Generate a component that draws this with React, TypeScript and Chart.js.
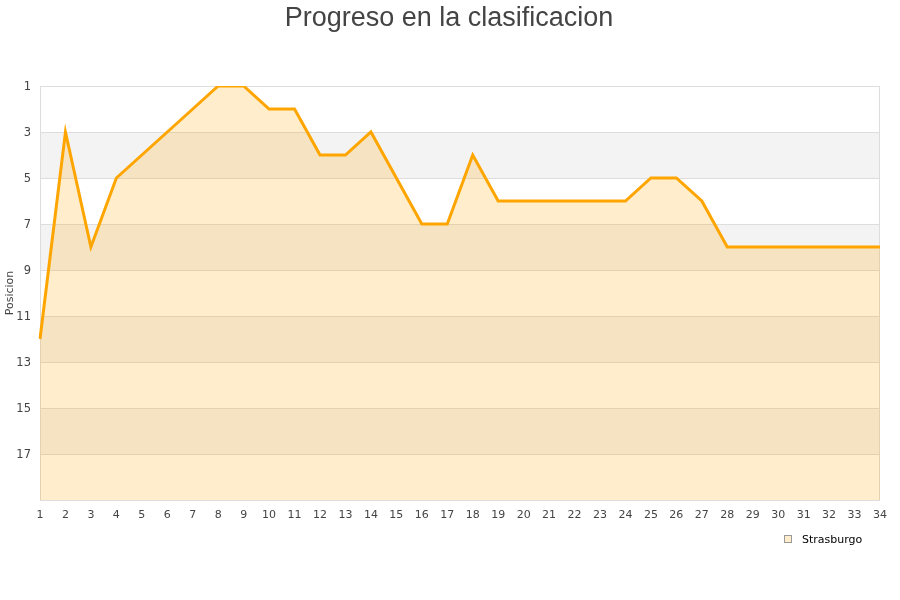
import React, { useEffect, useRef } from "react";
import { Chart, registerables } from "chart.js";

Chart.register(...registerables);

const TITLE = "Progreso en la clasificacion";
const Y_TITLE = "Posicion";
const SERIES_LABEL = "Strasburgo";
const JORNADAS: string[] = Array.from({ length: 34 }, (_, i) => String(i + 1));
const POSITIONS: number[] = [
  12, 3, 8, 5, 4, 3, 2, 1, 1, 2, 2, 4, 4, 3, 5, 7, 7, 4, 6, 6, 6, 6, 6, 6, 5, 5, 6, 8, 8, 8, 8, 8, 8, 8,
];
const Y_MIN = 1;
const Y_MAX = 19;

const TEXT = "#444444";
const LINE = "#FFA500";
const FILL = "rgba(255,165,0,0.2)";
const BAND = "#F3F3F3";
const GRID = "#DDDDDD";

const bandsPlugin = {
  id: "bands",
  beforeDatasetsDraw(chart: any) {
    const { ctx, chartArea, scales } = chart;
    const y = scales.y;
    const ticks = y.ticks.map((t: any) => t.value);
    ctx.save();
    ctx.fillStyle = BAND;
    for (let i = 1; i < ticks.length - 1; i += 2) {
      const a = y.getPixelForValue(ticks[i]);
      const b = y.getPixelForValue(ticks[i + 1]);
      ctx.fillRect(chartArea.left, Math.min(a, b), chartArea.right - chartArea.left, Math.abs(b - a));
    }
    ctx.strokeStyle = GRID;
    ctx.lineWidth = 1;
    for (const v of ticks) {
      const p = Math.round(y.getPixelForValue(v)) + 0.5;
      ctx.beginPath();
      ctx.moveTo(chartArea.left, p);
      ctx.lineTo(chartArea.right, p);
      ctx.stroke();
    }
    ctx.beginPath();
    ctx.moveTo(Math.round(chartArea.left) + 0.5, chartArea.top);
    ctx.lineTo(Math.round(chartArea.left) + 0.5, chartArea.bottom);
    ctx.moveTo(Math.round(chartArea.right) - 0.5, chartArea.top);
    ctx.lineTo(Math.round(chartArea.right) - 0.5, chartArea.bottom);
    ctx.stroke();
    ctx.restore();
  },
  afterDraw(chart: any) {
    const { ctx } = chart;
    ctx.save();
    ctx.font = "27px 'Liberation Sans', Arial, sans-serif";
    ctx.fillStyle = TEXT;
    ctx.textAlign = "center";
    ctx.textBaseline = "middle";
    ctx.fillText(TITLE, 449, 18.5);

    const ds = chart.data.datasets[0];
    ctx.font = "11px 'DejaVu Sans', sans-serif";
    ctx.textAlign = "left";
    ctx.fillStyle = "#FFEDCC";
    ctx.fillRect(784, 535, 8, 8);
    ctx.strokeStyle = "#999999";
    ctx.lineWidth = 1;
    ctx.strokeRect(784.5, 535.5, 7, 7);
    ctx.fillStyle = "#000000";
    ctx.fillText(ds.label, 802, 540);
    ctx.restore();
  },
};

export default function App() {
  const ref = useRef<HTMLCanvasElement | null>(null);
  useEffect(() => {
    document.body.style.margin = "0";
    const chart = new Chart(ref.current as HTMLCanvasElement, {
      type: "line",
      data: {
        labels: JORNADAS,
        datasets: [
          {
            label: SERIES_LABEL,
            data: POSITIONS,
            borderColor: LINE,
            backgroundColor: FILL,
            borderWidth: 3,
            pointRadius: 0,
            tension: 0,
            fill: { value: Y_MAX },
          },
        ],
      },
      plugins: [bandsPlugin],
      options: {
        animation: false,
        responsive: false,
        layout: { padding: { top: 86, right: 20, left: 0, bottom: 0 } },
        plugins: { legend: { display: false }, title: { display: false }, tooltip: { enabled: false } },
        scales: {
          x: {
            offset: false,
            grid: { display: false, drawTicks: false },
            border: { display: false },
            ticks: {
              color: TEXT,
              font: { family: "'DejaVu Sans', sans-serif", size: 11 },
              padding: 9,
              maxRotation: 0,
              autoSkip: false,
            },
            afterFit: (s: any) => {
              s.height = 100;
            },
          },
          y: {
            reverse: true,
            min: Y_MIN,
            max: Y_MAX,
            grid: { display: false, drawTicks: false },
            border: { display: false },
            ticks: {
              stepSize: 2,
              color: TEXT,
              font: { family: "'DejaVu Sans', sans-serif", size: 11.5 },
              padding: 9,
              labelOffset: 1.5,
              callback: (v: any) => (v === Y_MAX ? "" : String(v)),
            },
            title: {
              display: true,
              text: Y_TITLE,
              color: TEXT,
              font: { family: "'DejaVu Sans', sans-serif", size: 11 },
              padding: { top: 4, bottom: 4 },
            },
            afterFit: (s: any) => {
              s.width = 40;
            },
          },
        },
      },
    });
    return () => chart.destroy();
  }, []);
  return (
    <div style={{ position: "absolute", left: 0, top: 0, width: 900, height: 600 }}>
      <canvas ref={ref} width={900} height={600} />
    </div>
  );
}
